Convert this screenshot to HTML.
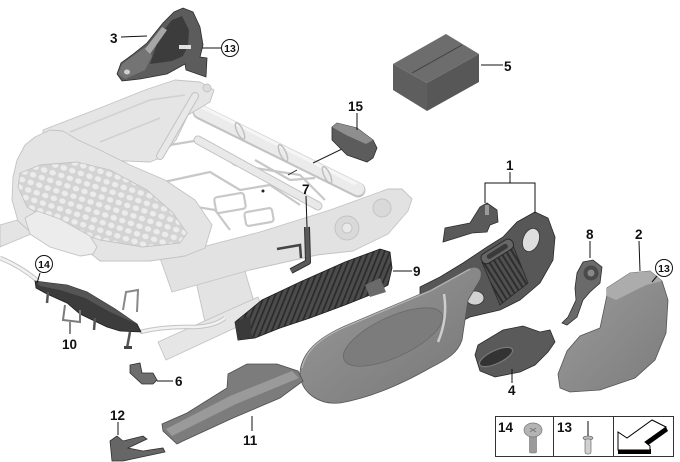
<!DOCTYPE html>
<html><head><meta charset="utf-8">
<style>
html,body{margin:0;padding:0;background:#fff;}
svg{display:block;}
text{font-family:"Liberation Sans",Arial,sans-serif;font-weight:bold;fill:#111;}
</style></head><body>
<svg width="680" height="462" viewBox="0 0 680 462" xmlns="http://www.w3.org/2000/svg">
<defs>
<pattern id="hex" width="9" height="8" patternUnits="userSpaceOnUse" patternTransform="rotate(18)">
 <rect width="9" height="8" fill="#d3d3d3"/>
 <ellipse cx="4.5" cy="4" rx="3.3" ry="2.7" fill="#ececec"/>
</pattern>
<pattern id="ribs" width="5" height="10" patternUnits="userSpaceOnUse" patternTransform="rotate(22)">
 <rect width="5" height="10" fill="#4c4c4c"/>
 <rect width="1.7" height="10" fill="#2a2a2a"/>
</pattern>
<pattern id="slats" width="5" height="10" patternUnits="userSpaceOnUse" patternTransform="rotate(-32)">
 <rect width="5" height="10" fill="#505050"/>
 <rect width="2" height="10" fill="#2e2e2e"/>
</pattern>
<linearGradient id="pg" x1="0" y1="0" x2="1" y2="1">
 <stop offset="0" stop-color="#9a9a9a"/><stop offset="1" stop-color="#767676"/>
</linearGradient>
<linearGradient id="p2" x1="0" y1="0" x2="1" y2="1">
 <stop offset="0" stop-color="#9c9c9c"/><stop offset="1" stop-color="#7c7c7c"/>
</linearGradient>
</defs>

<!-- ============ SEAT FRAME (light) ============ -->
<g stroke="#c3c3c3" stroke-width="0.9" stroke-linejoin="round">
 <polygon points="0,225 32,216 36,232 0,247" fill="#e4e4e4"/>
 <path d="M0,258 Q20,266 38,281" fill="none" stroke="#c3c3c3" stroke-width="4.5"/>
 <path d="M0,258 Q20,266 38,281" fill="none" stroke="#f2f2f2" stroke-width="2.5"/>
 <polygon points="193,268 240,255 255,305 205,322" fill="#e3e3e3"/>
 <polygon points="158,342 258,297 265,314 166,360" fill="#e6e6e6"/>
 <path d="M140,332 Q165,326 195,327 Q215,326 225,318" fill="none" stroke="#c3c3c3" stroke-width="4.5"/>
 <path d="M140,332 Q165,326 195,327 Q215,326 225,318" fill="none" stroke="#f2f2f2" stroke-width="2.5"/>
 <polygon points="160,258 260,232 330,210 388,189 402,189 412,199 408,211 388,234 353,251 317,255 250,270 172,292" fill="#e2e2e2"/>
 <circle cx="347" cy="228" r="12" fill="#d9d9d9"/>
 <circle cx="347" cy="228" r="5" fill="#e9e9e9"/>
 <circle cx="382" cy="208" r="9" fill="#d9d9d9"/>
 <g fill="none" stroke="#c8c8c8" stroke-width="2.2">
  <path d="M140,150 L200,140 L235,165 L300,175 L325,200"/>
  <path d="M150,185 L210,172 L240,190 L270,185 L300,205"/>
  <rect x="215" y="195" width="30" height="16" rx="3" transform="rotate(-10 230 203)"/>
  <rect x="245" y="210" width="28" height="14" rx="3" transform="rotate(-10 259 217)"/>
  <path d="M185,205 L215,210 L230,230"/>
  <path d="M255,160 L290,180 L315,178"/>
 </g>
 <path d="M198,140 L318,206" fill="none" stroke="#c3c3c3" stroke-width="9" stroke-linecap="round"/>
 <path d="M198,140 L318,206" fill="none" stroke="#e9e9e9" stroke-width="7" stroke-linecap="round"/>
 <path d="M200,112 L358,190" fill="none" stroke="#c3c3c3" stroke-width="15" stroke-linecap="round"/>
 <path d="M200,111 L358,189" fill="none" stroke="#ebebeb" stroke-width="12.5" stroke-linecap="round"/>
 <path d="M200,106 L356,184" fill="none" stroke="#f5f5f5" stroke-width="3"/>
 <ellipse cx="240" cy="131" rx="3" ry="9" transform="rotate(-25 240 131)" fill="none" stroke="#c0c0c0" stroke-width="1.5"/>
 <ellipse cx="283" cy="153" rx="3" ry="9" transform="rotate(-25 283 153)" fill="none" stroke="#c0c0c0" stroke-width="1.5"/>
 <ellipse cx="327" cy="175" rx="3" ry="9" transform="rotate(-25 327 175)" fill="none" stroke="#c0c0c0" stroke-width="1.5"/>
 <polygon points="43,130 100,108 145,90 175,80 200,82 214,90 210,102 188,115 176,140 160,158 150,162 100,160 60,150 43,140" fill="#e5e5e5"/>
 <circle cx="207" cy="88" r="4" fill="#dcdcdc"/>
 <path d="M70,132 L150,100 L185,95" fill="none" stroke="#d0d0d0" stroke-width="1.5"/>
 <path d="M100,142 L160,118" fill="none" stroke="#d0d0d0" stroke-width="1.5"/>
 <path d="M195,96 L160,156" fill="none" stroke="#c3c3c3" stroke-width="8" stroke-linecap="round"/>
 <path d="M195,96 L160,156" fill="none" stroke="#e8e8e8" stroke-width="6" stroke-linecap="round"/>
 <polygon points="13,177 17,160 25,145 35,137 50,130 63,131 78,140 100,150 130,165 165,180 195,200 212,225 205,248 185,256 150,261 100,261 90,253 60,246 35,236 18,221 12,200" fill="#e4e4e4"/>
 <polygon points="20,173 40,165 77,162 110,170 147,190 173,213 187,233 180,243 143,247 100,240 60,227 27,207 18,187" fill="url(#hex)"/>
 <polygon points="25,218 37,211 60,219 90,236 97,247 93,254 80,256 50,247 30,234" fill="#ececec"/>
</g>
<line x1="342" y1="149" x2="313" y2="163" stroke="#222" stroke-width="1"/>
<line x1="288" y1="175" x2="297" y2="170" stroke="#222" stroke-width="1"/>
<circle cx="263" cy="191" r="1.5" fill="#222"/>

<!-- PART 3 -->
<polygon points="117,74 121,63 132,55 147,43 163,23 174,12 183,8 193,12 200,27 203,45 200,57 207,58 206,77 186,70 185,64 167,74 140,79 122,81" fill="#5c5c5c" stroke="#2e2e2e" stroke-width="0.8"/>
<polygon points="118,74 122,64 133,56 147,46 152,56 145,70 125,79" fill="#747474"/>
<polygon points="150,64 160,35 172,20 182,16 189,30 188,46 183,56 172,61" fill="#3c3c3c"/>
<polygon points="145,49 162,27 167,30 150,54" fill="#a6a6a6"/>
<ellipse cx="127" cy="72" rx="3" ry="2.5" fill="#cfcfcf"/>
<rect x="179" y="45" width="12" height="4" fill="#e0e0e0"/>

<!-- PART 5 -->
<polygon points="393,64 446,34 479,54 427,83" fill="#6d6d6d"/>
<polygon points="393,64 427,83 427,111 393,90" fill="#5e5e5e"/>
<polygon points="427,83 479,54 479,82 427,111" fill="#575757"/>
<line x1="412" y1="73" x2="462" y2="45" stroke="#3e3e3e" stroke-width="1"/>

<!-- PART 15 -->
<polygon points="332,127 337,123 357,128 373,140 377,148 373,158 367,162 347,155 332,140" fill="#5c5c5c" stroke="#2e2e2e" stroke-width="0.8"/>
<polygon points="332,127 337,123 357,128 373,140 366,144 346,135" fill="#8e8e8e"/>

<!-- PART 7 -->
<path d="M307,227 L308,262 L291,271" fill="none" stroke="#2e2e2e" stroke-width="6" stroke-linejoin="round"/>
<path d="M307,227 L308,262 L291,271" fill="none" stroke="#5a5a5a" stroke-width="4" stroke-linejoin="round"/>
<path d="M277,249 L300,245 L301,258" fill="none" stroke="#444" stroke-width="2.5"/>

<!-- PART 9 -->
<polygon points="235,322 262,300 300,282 345,262 380,249 390,252 392,268 388,285 370,295 345,305 310,318 280,328 255,338 238,340" fill="url(#ribs)" stroke="#1f1f1f" stroke-width="0.8"/>
<polygon points="235,322 250,316 252,338 238,340" fill="#3a3a3a"/>
<polygon points="365,285 380,278 386,292 370,297" fill="#6a6a6a"/>

<!-- PART 1 small bracket -->
<polygon points="443,242 445,228 470,223 480,207 487,203 497,210 498,222 490,225 487,232 472,233" fill="#5a5a5a" stroke="#2e2e2e" stroke-width="0.8"/>
<rect x="485" y="205" width="4" height="10" fill="#9a9a9a"/>

<!-- PART 1 frame -->
<polygon points="420,287 440,277 463,263 487,247 503,237 517,222 535,212 548,218 555,237 553,260 540,283 520,300 500,310 470,317 450,327 433,333 420,335" fill="#575757" stroke="#2a2a2a" stroke-width="0.8"/>
<ellipse cx="531" cy="240" rx="8" ry="12" transform="rotate(20 531 240)" fill="#dedede" stroke="#333" stroke-width="0.8"/>
<ellipse cx="475" cy="298" rx="9" ry="7" fill="#d2d2d2" stroke="#333" stroke-width="0.8"/>
<polygon points="482,262 512,243 528,283 500,305" fill="url(#slats)" stroke="#2a2a2a" stroke-width="0.8"/>
<rect x="479" y="246" width="36" height="11" rx="5" transform="rotate(-32 497 251)" fill="#666" stroke="#2a2a2a" stroke-width="1"/>
<rect x="485" y="249" width="24" height="5" rx="2.5" transform="rotate(-32 497 251)" fill="#3a3a3a"/>

<!-- SIDE PANEL -->
<path d="M300,372 C302,352 318,338 345,326 L430,290 L470,268 C478,265 484,270 480,280 L468,300 L462,340 C458,352 450,358 430,368 C400,385 370,398 340,403 C318,405 300,392 300,372 Z" fill="url(#pg)" stroke="#555" stroke-width="0.8"/>
<path d="M302,368 C306,350 320,338 345,327 L430,291 L470,269" fill="none" stroke="#b0b0b0" stroke-width="1.5"/>
<ellipse cx="393" cy="337" rx="54" ry="20" transform="rotate(-25 393 337)" fill="#7c7c7c" stroke="#6a6a6a" stroke-width="0.8"/>
<path d="M444,294 Q448,318 438,342" fill="none" stroke="#cdcdcd" stroke-width="2.5"/>

<!-- PART 8 -->
<polygon points="577,273 583,262 593,260 602,267 600,283 590,292 583,300 577,317 567,325 562,323 568,317 576,300 575,288" fill="#6a6a6a" stroke="#2e2e2e" stroke-width="0.8"/>
<circle cx="591" cy="273" r="7.5" fill="#4a4a4a"/>
<circle cx="591" cy="273" r="3.5" fill="#888"/>

<!-- PART 2 -->
<polygon points="607,288 630,273 650,271 662,281 668,300 666,333 655,360 635,378 600,390 570,392 560,388 558,374 567,351 580,336 600,328 603,314 607,295" fill="url(#p2)" stroke="#555" stroke-width="0.8"/>
<polygon points="607,288 630,273 650,271 662,281 646,285 616,300 607,296" fill="#acacac"/>

<!-- PART 4 -->
<polygon points="475,355 478,345 503,330 523,326 540,332 550,330 555,342 548,352 535,365 520,372 495,377 480,371" fill="#5a5a5a" stroke="#2a2a2a" stroke-width="0.8"/>
<ellipse cx="496" cy="357" rx="18" ry="6.5" transform="rotate(-25 496 357)" fill="#333" stroke="#7a7a7a" stroke-width="1.2"/>

<!-- PART 10 -->
<polygon points="35,281 50,283 67,285 87,292 115,309 137,324 141,332 120,331 107,327 80,314 67,303 47,294 36,288" fill="#3c3c3c" stroke="#1e1e1e" stroke-width="0.8"/>
<polygon points="35,281 50,283 67,285 87,292 115,309 137,324 110,312 85,298 60,290 40,286" fill="#555"/>
<path d="M65,305 L63,320 L80,322 L80,310" fill="none" stroke="#7a7a7a" stroke-width="2"/>
<path d="M123,310 L126,292 L138,290 L137,312" fill="none" stroke="#888" stroke-width="2"/>
<path d="M48,292 L47,303 M95,318 L94,330 M130,332 L127,348" fill="none" stroke="#555" stroke-width="2.5"/>
<rect x="124" y="346" width="8" height="3" fill="#444"/>

<!-- PART 6 -->
<polygon points="130,365 140,363 142,373 153,373 157,380 153,384 142,384 130,373" fill="#6e6e6e" stroke="#2e2e2e" stroke-width="0.8"/>

<!-- PART 12 -->
<polygon points="110,441 117,436 123,441 143,436 147,439 128,448 143,451 163,448 165,452 123,461 112,461" fill="#666" stroke="#2e2e2e" stroke-width="0.8"/>

<!-- PART 11 -->
<polygon points="162,424 187,413 227,388 228,374 247,364 277,364 298,371 303,381 280,398 233,418 183,441 177,444 163,431" fill="#7c7c7c" stroke="#4e4e4e" stroke-width="0.8"/>
<polygon points="166,429 230,396 292,371 299,378 236,404 172,436" fill="#9a9a9a"/>

<!-- LEADERS -->
<g stroke="#111" stroke-width="1" fill="none">
 <line x1="121" y1="37" x2="147" y2="36"/>
 <line x1="202" y1="48" x2="221" y2="48"/>
 <line x1="481" y1="65" x2="503" y2="65"/>
 <line x1="357" y1="113" x2="357" y2="130"/>
 <polyline points="485,203 485,183 535,183 535,213"/>
 <line x1="510" y1="172" x2="510" y2="183"/>
 <line x1="306" y1="196" x2="307" y2="227"/>
 <line x1="590" y1="241" x2="590" y2="258"/>
 <line x1="639" y1="241" x2="640" y2="271"/>
 <line x1="657" y1="276" x2="652" y2="282"/>
 <line x1="393" y1="271" x2="412" y2="271"/>
 <line x1="512" y1="369" x2="512" y2="383"/>
 <line x1="40" y1="273" x2="37" y2="283"/>
 <line x1="70" y1="322" x2="70" y2="334"/>
 <line x1="157" y1="381" x2="173" y2="381"/>
 <line x1="118" y1="422" x2="118" y2="435"/>
 <line x1="252" y1="416" x2="252" y2="431"/>
 <circle cx="230" cy="48" r="8.5"/>
 <circle cx="664" cy="268" r="8.5"/>
 <circle cx="44" cy="264" r="8.5"/>
</g>

<!-- LABELS -->
<g font-size="13.5">
 <text x="110" y="43">3</text>
 <text x="504" y="71">5</text>
 <text x="348" y="111">15</text>
 <text x="506" y="170">1</text>
 <text x="302" y="194">7</text>
 <text x="586" y="239">8</text>
 <text x="635" y="239">2</text>
 <text x="413" y="276">9</text>
 <text x="508" y="395">4</text>
 <text x="62" y="349">10</text>
 <text x="175" y="386">6</text>
 <text x="110" y="420">12</text>
 <text x="243" y="445">11</text>
</g>
<g font-size="10.5" text-anchor="middle">
 <text x="230" y="52">13</text>
 <text x="664" y="272">13</text>
 <text x="44" y="268">14</text>
</g>

<!-- LEGEND BOX -->
<rect x="495.5" y="416.5" width="178" height="40" fill="#fff" stroke="#333" stroke-width="1"/>
<line x1="553.5" y1="416.5" x2="553.5" y2="456.5" stroke="#333"/>
<line x1="613.5" y1="416.5" x2="613.5" y2="456.5" stroke="#333"/>
<text x="498" y="432" font-size="13.5">14</text>
<text x="557" y="432" font-size="13.5">13</text>
<rect x="529.5" y="435" width="7" height="18" rx="1.5" fill="#9a9a9a" stroke="#777" stroke-width="0.6"/>
<ellipse cx="533" cy="430" rx="9" ry="7" fill="#b4b4b4" stroke="#777" stroke-width="0.7"/>
<path d="M530,428 L536,432 M536,428 L530,432" stroke="#777" stroke-width="1"/>
<line x1="588" y1="421" x2="588" y2="436" stroke="#666" stroke-width="1.6"/>
<ellipse cx="588" cy="438" rx="5" ry="2" fill="#bbb" stroke="#555" stroke-width="0.6"/>
<rect x="585" y="439" width="6" height="15" rx="2" fill="#d0d0d0" stroke="#555" stroke-width="0.6"/>
<polygon points="645,442 666,427 668,431 647,446" fill="#000"/>
<rect x="618" y="449" width="33" height="5" fill="#000"/>
<polygon points="618,432 627,438 652,420 666,427 645,442 650,446 650,450 618,450" fill="#fff" stroke="#000" stroke-width="1"/>
</svg>
</body></html>
